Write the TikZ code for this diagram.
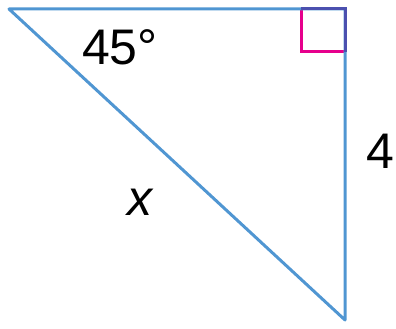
\documentclass[tikz,border=0pt]{standalone}
\usepackage{fontspec}
\setmainfont{Liberation Sans}
\definecolor{sideblue}{RGB}{80,150,210}
\definecolor{markpink}{RGB}{230,0,140}
\definecolor{cornerblue}{RGB}{75,80,175}
\begin{document}
\begin{tikzpicture}[x=1pt,y=-1pt]
			\tikzstyle{every node}+=[inner sep=0pt, font=\fontsize{50}{60}\selectfont]
			\useasboundingbox (0,0) rectangle (396,329);
			\coordinate (A) at (9,9);
			\coordinate (B) at (345,9);
			\coordinate (C) at (345,320);
			\draw [markpink, line width=3pt] (301,9) -- (301,52) -- (345,52);
			\draw [sideblue, line width=3pt, line join=round] (A) -- (B) -- (C) -- cycle;
			\draw [cornerblue, line width=3pt] (301,9) -- (B) -- (345,52);
			\draw (120,47) node {45°};
			\draw (380,151) node {4};
			\draw (140,202) node {\itshape x};
		\end{tikzpicture}
\end{document}
